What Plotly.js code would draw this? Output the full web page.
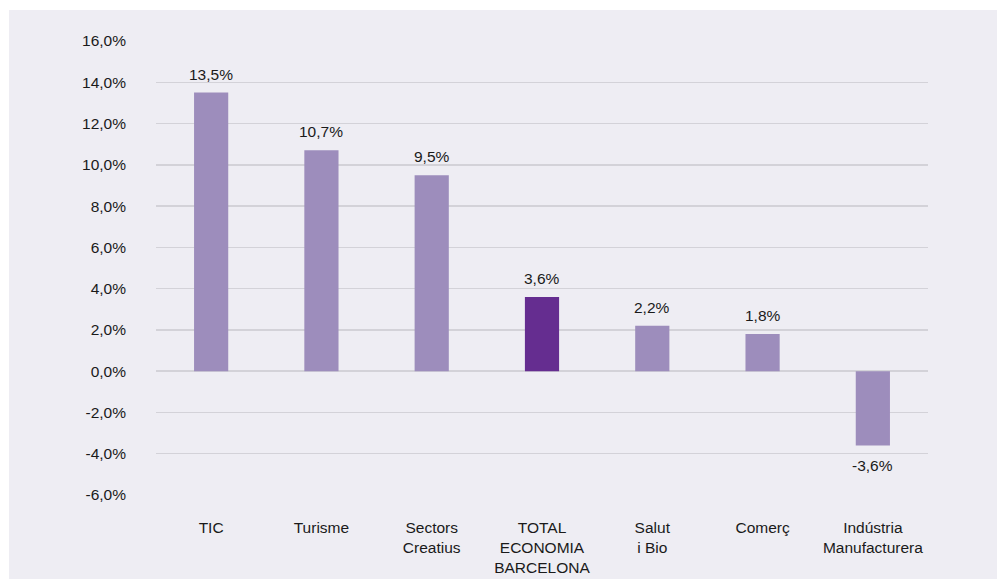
<!DOCTYPE html>
<html>
<head>
<meta charset="utf-8">
<script src="https://cdn.plot.ly/plotly-3.0.1.min.js"></script>
<style>
html,body{margin:0;padding:0;background:#ffffff;width:998px;height:579px;overflow:hidden;}
#chart{position:absolute;left:9px;top:10px;width:988px;height:569px;}
</style>
</head>
<body>
<div id="chart"></div>
<script>
const categories = ["TIC", "Turisme", "Sectors<br>Creatius", "TOTAL<br>ECONOMIA<br>BARCELONA", "Salut<br>i Bio", "Comerç", "Indústria<br>Manufacturera"];
const values = [13.5, 10.7, 9.5, 3.6, 2.2, 1.8, -3.6];
const barColors = ["#9D8DBC", "#9D8DBC", "#9D8DBC", "#652D90", "#9D8DBC", "#9D8DBC", "#9D8DBC"];
const yTicks = [-6, -4, -2, 0, 2, 4, 6, 8, 10, 12, 14, 16];
const yTickLabels = ["-6,0%", "-4,0%", "-2,0%", "0,0%", "2,0%", "4,0%", "6,0%", "8,0%", "10,0%", "12,0%", "14,0%", "16,0%"];

const fontFam = "Liberation Sans, Arial, Helvetica, sans-serif";
const fs = 15.5;

const trace = {
  type: "bar",
  x: categories,
  y: values,
  width: 0.31,
  marker: {color: barColors},
  hoverinfo: "none"
};

const annotations = values.map((v, i) => ({
  x: categories[i],
  y: v,
  xref: "x",
  yref: "y",
  text: v.toFixed(1).replace(".", ",") + "%",
  showarrow: false,
  yanchor: v >= 0 ? "bottom" : "top",
  yshift: v >= 0 ? 8 : -10,
  font: {family: fontFam, size: fs, color: "#1a1a1a"}
}));

const layout = {
  width: 988,
  height: 569,
  margin: {l: 147, r: 69, t: 31, b: 84},
  paper_bgcolor: "#EEEDF3",
  plot_bgcolor: "#EEEDF3",
  showlegend: false,
  font: {family: fontFam, size: fs, color: "#1a1a1a"},
  xaxis: {
    type: "category",
    range: [-0.5, 6.5],
    showgrid: false,
    zeroline: false,
    showline: false,
    ticks: "",
    ticklabelstandoff: 21,
    tickfont: {family: fontFam, size: fs, color: "#1a1a1a"}
  },
  yaxis: {
    range: [-6, 16],
    tickmode: "array",
    tickvals: yTicks,
    ticktext: yTickLabels,
    showgrid: true,
    gridcolor: "#D3D2D8",
    gridwidth: 1.5,
    zeroline: true,
    zerolinecolor: "#D3D2D8",
    zerolinewidth: 1.5,
    showline: false,
    ticks: "",
    ticklabelstandoff: 29,
    tickfont: {family: fontFam, size: fs, color: "#1a1a1a"}
  },
  annotations: annotations
};

Plotly.newPlot("chart", [trace], layout, {displayModeBar: false, staticPlot: true});
</script>
</body>
</html>
